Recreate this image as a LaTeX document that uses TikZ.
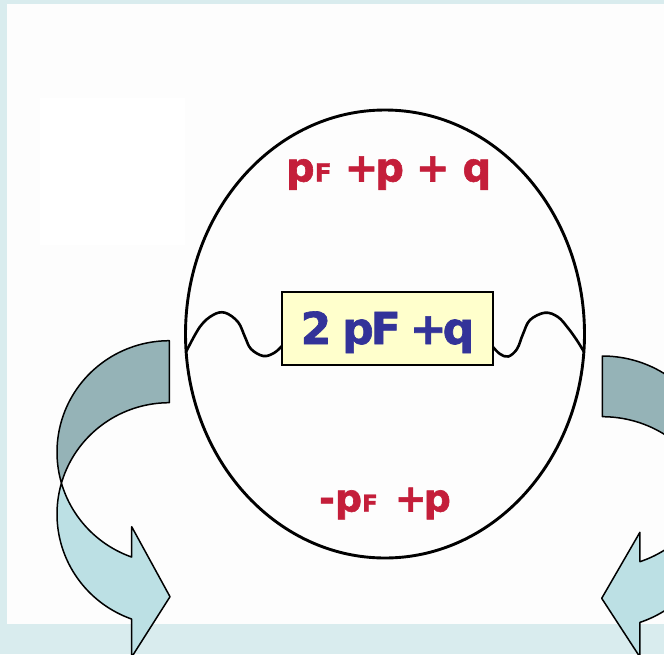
\documentclass[tikz,border=0pt]{standalone}
\usepackage{fontspec}
\setmainfont{DejaVu Sans}
\newfontfamily\heavy[FakeBold=1.5]{DejaVu Sans Bold}
\definecolor{bandc}{HTML}{D9ECEE}
\definecolor{paper}{HTML}{FDFDFD}
\definecolor{arrowdark}{HTML}{95B3B7}
\definecolor{arrowlight}{HTML}{BCE0E4}
\definecolor{boxfill}{HTML}{FFFFCC}
\definecolor{redtext}{HTML}{C41E3A}
\definecolor{bluetext}{HTML}{333399}
\tikzset{
  arrowline/.style={draw=black, line width=1.5pt, line join=round},
  redlabel/.style={text=redtext, anchor=base, inner sep=0pt},
  bluelabel/.style={text=bluetext, font=\heavy\fontsize{44}{48}\selectfont, anchor=base, inner sep=0pt},
  centerbox/.style={draw=black, line width=1.6pt, fill=boxfill, minimum width=211pt, minimum height=73pt, inner sep=0pt},
}
\begin{document}
\begin{tikzpicture}[x=1pt, y=-1pt]
\useasboundingbox (0,0) rectangle (664,654);
\clip (0,0) rectangle (664,654);
% background
\fill[bandc] (0,0) rectangle (664,654);
\fill[paper] (7,4) rectangle (664,624);
\fill[white] (40,98) rectangle (185,245);
% big ellipse
\draw[line width=2.9pt] (385,334) ellipse [x radius=199.5, y radius=224];
% wavy lines
\draw[line width=2.6pt, line cap=round] plot[smooth, tension=0.6] coordinates {(186.5,351) (200,326.7) (213,315) (225,312.7) (238,322) (245,337) (251,349) (263.3,356) (274,353) (282,346)};
\draw[line width=2.6pt, line cap=round] plot[smooth, tension=0.6] coordinates {(493,347) (500,354) (508.3,356.5) (517,349) (523,334) (530,320) (545,312.7) (558,317) (568,328) (576.7,340) (583.5,351)};
% centre box
\node[centerbox] (box) at (387.5,328.6) {};
\node[bluelabel] (boxtext) at (387.4,344) {2\hspace{11pt}p\kern-3pt F\hspace{9pt}+\kern-4pt q};
% texts
\node[redlabel, font=\heavy\fontsize{40}{44}\selectfont] (toptext) at (388.6,181.5) {p\kern0pt{\fontsize{25}{25}\selectfont F}\hspace{13pt}+\kern-3pt p\hspace{12pt}+\hspace{13pt}q};
\node[redlabel, font=\heavy\fontsize{38}{42}\selectfont] (bottomtext) at (385,511.5) {-\kern0pt p\kern0pt{\fontsize{23}{23}\selectfont F}\hspace{17pt}+\kern-3pt p};
% left curved arrow
\path[arrowline, fill=arrowdark]
  plot[domain=270:163.8, samples=60] ({169.3+112.3*cos(\x)},{452.1+111.4*sin(\x)})
  -- plot[domain=196.2:270, samples=60] ({169.3+112.3*cos(\x)},{514.1+111.4*sin(\x)})
  -- cycle;
\path[arrowline, fill=arrowlight]
  plot[domain=163.8:109.6, samples=50] ({169.3+112.3*cos(\x)},{452.1+111.4*sin(\x)})
  -- (131.7,526.7) -- (170,596.7) -- (131.7,657)
  -- plot[domain=109.6:196.2, samples=60] ({169.3+112.3*cos(\x)},{514.1+111.4*sin(\x)})
  -- cycle;
% right curved arrow
\path[arrowline, fill=arrowdark]
  plot[domain=-90:16.65, samples=60] ({602.3+112.3*cos(\x)},{461.9+105.9*sin(\x)})
  -- plot[domain=-16.65:-90, samples=60] ({602.3+112.3*cos(\x)},{522.6+105.9*sin(\x)})
  -- cycle;
\path[arrowline, fill=arrowlight]
  plot[domain=16.65:70.4, samples=50] ({602.3+112.3*cos(\x)},{461.9+105.9*sin(\x)})
  -- (639.9,532.3) -- (601.7,598.3) -- (639.9,657)
  -- plot[domain=70.4:-16.65, samples=60] ({602.3+112.3*cos(\x)},{522.6+105.9*sin(\x)})
  -- cycle;
\end{tikzpicture}
\end{document}
